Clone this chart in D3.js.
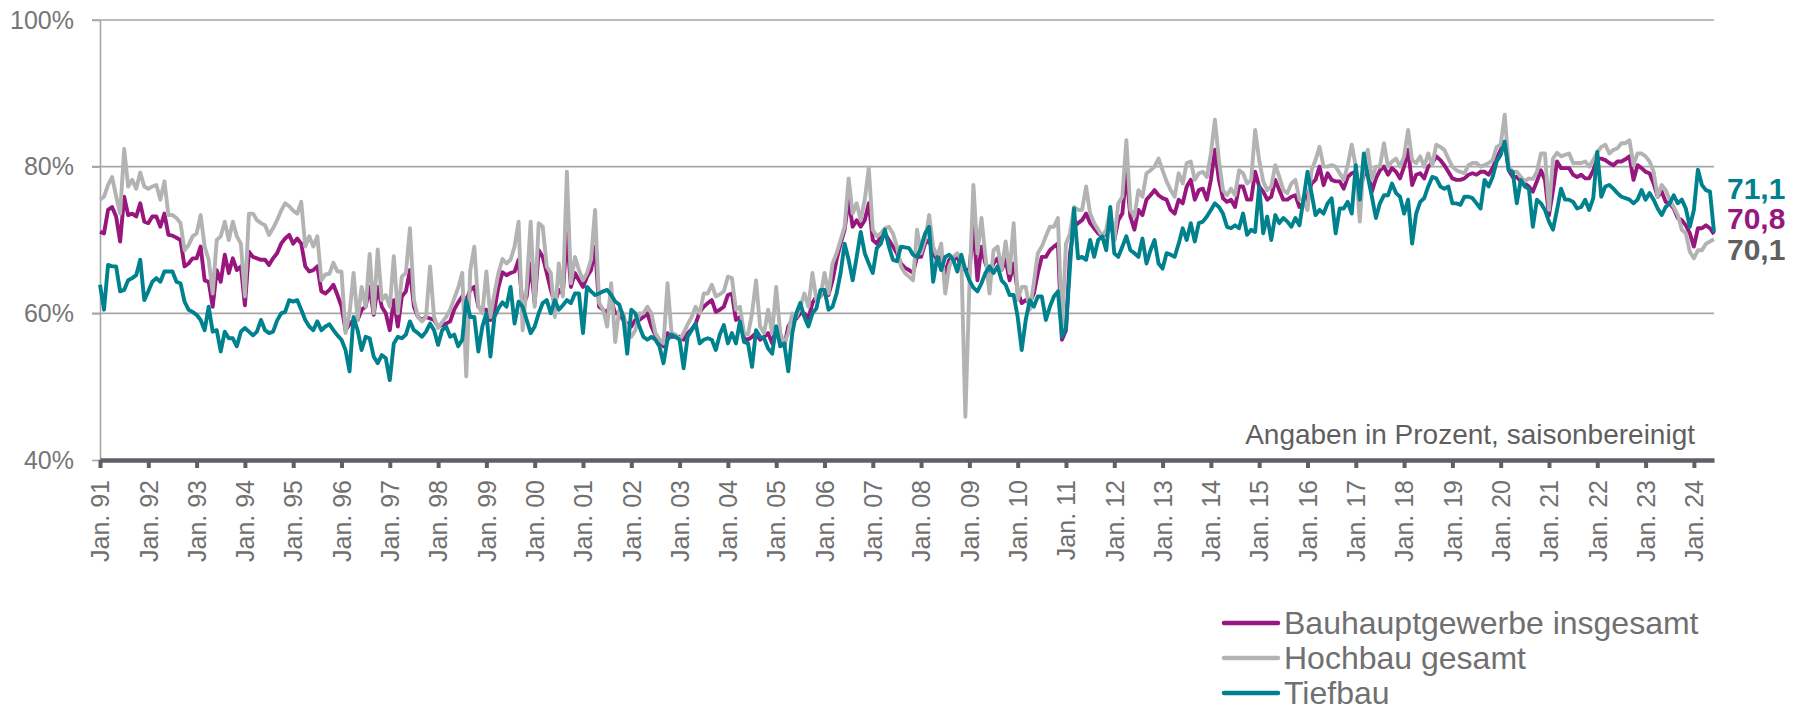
<!DOCTYPE html>
<html>
<head>
<meta charset="utf-8">
<script src="https://cdn.jsdelivr.net/npm/d3@7"></script>
<style>
    body { margin: 0; background: #fff; }
    svg { display: block; font-family: Arial, "Liberation Sans", sans-serif; }
</style>
</head>
<body>
<svg id="chart" width="1802" height="710"></svg>
<script>
// monthly values, Jan. 1991 - Jun. 2024 (one row per year)
var bauhaupt = [
    71.1, 70.9, 74.1, 74.5, 73.2, 69.8, 75.9, 73.4, 73.6, 73.2, 75.0, 72.5,
    72.3, 73.2, 73.2, 71.8, 73.6, 70.7, 70.6, 70.3, 70.0, 66.4, 66.8, 67.5,
    67.5, 69.1, 64.5, 64.3, 60.9, 65.9, 64.3, 68.0, 65.5, 67.5, 65.9, 66.4,
    61.1, 68.4, 67.7, 67.5, 67.3, 67.3, 66.6, 67.5, 68.2, 69.5, 70.2, 70.7,
    69.5, 70.2, 69.5, 66.4, 65.7, 65.9, 66.4, 63.0, 62.7, 63.2, 63.9, 62.5,
    60.9, 57.7, 58.5, 59.1, 59.1, 60.5, 60.9, 63.6, 59.8, 63.6, 60.9, 60.0,
    57.7, 61.8, 58.2, 62.3, 63.0, 65.9, 60.9, 59.5, 59.1, 59.5, 59.3, 59.1,
    58.2, 58.4, 58.6, 58.9, 60.5, 61.5, 62.3, 61.8, 63.2, 63.6, 60.9, 60.5,
    60.5, 59.1, 60.5, 63.6, 65.6, 65.2, 65.5, 65.7, 67.3, 60.9, 62.3, 66.8,
    61.4, 68.6, 67.7, 65.5, 63.2, 61.4, 63.2, 62.7, 70.9, 63.6, 65.5, 64.5,
    63.6, 65.0, 65.9, 69.1, 60.9, 60.5, 60.0, 61.8, 60.0, 60.0, 59.1, 58.6,
    58.2, 59.1, 59.1, 59.5, 60.0, 58.2, 57.0, 56.4, 55.5, 57.3, 56.8, 56.8,
    56.8, 56.4, 57.3, 57.8, 58.6, 60.2, 60.9, 61.4, 61.8, 60.2, 60.5, 60.9,
    62.5, 62.7, 59.1, 59.5, 56.6, 56.4, 56.8, 57.3, 56.4, 56.8, 57.3, 55.9,
    58.2, 56.4, 55.5, 58.2, 59.1, 59.3, 60.0, 60.0, 59.3, 61.4, 62.3, 62.3,
    63.2, 62.5, 64.5, 67.3, 69.5, 71.4, 75.5, 71.8, 72.7, 71.8, 72.7, 75.0,
    70.0, 69.5, 70.5, 70.9, 70.0, 69.1, 68.2, 66.8, 66.2, 65.9, 65.5, 67.7,
    67.7, 69.5, 70.0, 68.2, 67.3, 67.7, 65.5, 67.3, 67.3, 67.7, 66.4, 65.9,
    65.9, 71.8, 64.5, 69.1, 66.8, 65.5, 66.8, 67.5, 65.9, 67.3, 64.5, 66.8,
    63.0, 61.4, 61.8, 61.4, 62.7, 65.5, 67.7, 67.7, 68.6, 69.1, 69.5, 56.4,
    57.7, 68.2, 71.8, 72.3, 72.7, 73.6, 72.3, 71.6, 70.9, 70.5, 70.9, 72.7,
    70.0, 72.7, 73.6, 79.1, 73.2, 71.4, 74.1, 73.4, 75.5, 76.1, 76.8, 76.1,
    75.7, 75.5, 74.1, 73.6, 75.5, 75.0, 77.3, 78.2, 75.5, 76.8, 77.0, 75.5,
    78.2, 82.3, 78.2, 75.7, 75.2, 75.5, 74.5, 77.3, 77.3, 75.5, 75.5, 79.3,
    77.3, 76.6, 75.5, 75.9, 78.2, 76.8, 75.5, 75.5, 75.9, 76.1, 74.5, 75.0,
    75.9, 77.7, 78.2, 80.0, 77.5, 79.1, 78.2, 78.0, 78.0, 77.0, 78.6, 79.1,
    79.3, 76.8, 78.9, 79.3, 76.6, 78.4, 79.5, 80.0, 78.9, 79.8, 79.3, 78.4,
    80.0, 82.3, 77.5, 78.9, 79.1, 78.4, 80.0, 80.5, 81.4, 80.9, 80.2, 79.3,
    78.4, 78.2, 78.2, 78.4, 78.9, 79.1, 78.9, 79.3, 79.3, 78.9, 79.8, 81.1,
    82.3, 83.4, 79.5, 78.6, 78.6, 78.0, 77.7, 77.3, 76.6, 78.0, 79.5, 78.2,
    73.4, 76.8, 80.7, 79.8, 79.8, 79.8, 78.9, 78.6, 78.9, 78.4, 78.4, 79.5,
    81.1, 81.1, 80.9, 80.5, 80.2, 80.7, 80.7, 81.0, 81.4, 78.2, 80.2, 79.8,
    79.3, 79.1, 77.7, 75.9, 76.6, 75.2, 75.0, 74.3, 73.0, 72.7, 72.0, 70.9,
    69.1, 71.6, 71.6, 72.0, 71.6, 70.8
]

var hochbau = [
    75.5, 75.9, 77.5, 78.6, 76.0, 73.6, 82.4, 77.3, 78.2, 77.0, 79.2, 77.3,
    77.0, 77.3, 77.5, 75.5, 78.0, 73.4, 73.4, 73.0, 72.3, 68.6, 69.3, 70.5,
    70.9, 73.4, 69.1, 67.3, 62.7, 70.0, 70.5, 72.5, 70.0, 72.5, 70.5, 69.5,
    62.3, 73.6, 73.6, 72.7, 72.3, 72.0, 70.7, 71.6, 72.7, 74.0, 75.0, 74.6,
    74.0, 73.6, 75.2, 69.1, 70.5, 69.1, 70.5, 64.5, 65.3, 65.4, 66.9, 65.7,
    65.7, 57.3, 60.0, 65.5, 59.1, 63.6, 60.9, 68.1, 60.0, 68.7, 61.8, 62.5,
    60.9, 67.8, 60.0, 65.0, 65.5, 71.6, 61.8, 59.5, 58.9, 59.5, 66.4, 59.5,
    58.0, 58.8, 59.5, 60.5, 62.0, 63.5, 65.5, 51.4, 65.9, 69.1, 61.0, 60.0,
    65.7, 59.5, 62.7, 65.5, 67.4, 66.8, 67.3, 69.1, 72.5, 57.7, 63.6, 72.5,
    60.9, 72.3, 71.8, 66.4, 65.5, 59.5, 66.8, 62.3, 79.3, 64.1, 67.7, 65.9,
    64.5, 65.5, 67.3, 74.1, 61.4, 60.5, 58.2, 64.1, 56.1, 60.5, 60.0, 57.7,
    56.8, 57.7, 60.0, 60.0, 60.9, 60.0, 57.3, 56.4, 55.9, 64.1, 57.3, 57.1,
    56.4, 57.3, 58.5, 59.5, 60.9, 60.0, 62.7, 62.7, 63.9, 62.3, 62.6, 63.0,
    65.0, 64.8, 60.5, 60.9, 57.3, 57.1, 60.0, 64.5, 58.2, 57.3, 60.5, 57.3,
    63.6, 57.3, 55.9, 57.3, 60.0, 59.5, 60.9, 62.7, 60.9, 65.5, 61.8, 62.3,
    65.5, 62.7, 66.8, 68.2, 70.0, 71.8, 78.4, 73.6, 75.0, 72.7, 75.5, 79.8,
    71.4, 70.5, 70.9, 71.6, 71.8, 70.9, 69.1, 66.4, 65.5, 65.0, 64.5, 71.4,
    68.2, 70.0, 73.4, 69.1, 67.7, 69.5, 62.7, 66.4, 67.7, 68.2, 67.3, 45.9,
    63.6, 77.5, 68.2, 73.0, 67.7, 62.7, 68.6, 69.1, 65.9, 69.8, 65.5, 72.3,
    61.8, 63.6, 63.6, 60.5, 64.1, 68.2, 69.1, 70.5, 71.8, 71.8, 73.0, 58.0,
    69.5, 70.9, 74.5, 74.1, 74.1, 77.3, 73.6, 72.3, 71.4, 70.5, 71.4, 74.1,
    70.0, 75.0, 75.9, 83.6, 74.1, 73.2, 76.8, 75.9, 79.1, 79.5, 80.0, 81.1,
    79.5, 78.0, 76.8, 75.9, 79.1, 77.7, 80.5, 80.7, 78.2, 79.1, 79.3, 78.6,
    81.8, 86.4, 80.9, 76.8, 76.1, 77.0, 76.1, 79.5, 79.1, 77.7, 78.2, 85.0,
    80.9, 78.0, 76.8, 77.3, 80.2, 78.6, 76.8, 76.4, 77.7, 78.2, 75.5, 75.5,
    74.1, 79.5, 80.9, 82.7, 80.0, 80.0, 80.2, 80.0, 79.1, 78.2, 80.2, 83.0,
    80.0, 72.5, 80.9, 82.3, 78.2, 80.0, 80.0, 83.2, 80.0, 80.7, 81.1, 80.0,
    81.4, 85.0, 80.9, 80.5, 81.4, 80.0, 81.8, 80.2, 83.0, 82.7, 82.3, 81.1,
    80.0, 79.5, 79.3, 79.1, 80.2, 80.5, 80.5, 80.0, 80.2, 80.5, 80.9, 82.7,
    83.0, 87.1, 80.0, 79.3, 79.3, 78.6, 78.0, 78.4, 78.3, 79.3, 81.8, 81.8,
    74.1, 81.1, 81.9, 81.4, 81.6, 81.8, 80.5, 80.5, 80.5, 80.7, 80.0, 80.9,
    82.0, 82.7, 83.0, 81.8, 82.3, 82.5, 83.2, 83.2, 83.6, 80.2, 81.8, 81.8,
    81.4, 80.7, 79.3, 75.9, 77.5, 76.8, 75.5, 74.5, 73.4, 71.4, 70.9, 68.4,
    67.5, 68.6, 68.6, 69.5, 69.8, 70.1
]

var tiefbau = [
    63.9, 60.5, 66.6, 66.4, 66.4, 63.0, 63.2, 64.5, 64.8, 65.2, 67.3, 61.8,
    63.0, 64.3, 64.8, 64.3, 65.7, 65.7, 65.7, 64.3, 64.1, 61.6, 60.5, 60.2,
    59.8, 59.1, 57.7, 60.9, 57.5, 57.7, 54.8, 57.5, 56.6, 56.6, 55.5, 57.5,
    58.0, 57.5, 57.0, 57.5, 59.1, 57.7, 57.3, 57.5, 59.0, 60.0, 60.2, 61.8,
    61.6, 61.8, 60.5, 59.1, 58.2, 57.7, 58.9, 57.7, 58.2, 58.5, 57.7, 57.0,
    56.4, 55.0, 52.1, 59.5, 57.7, 55.0, 56.8, 56.6, 54.1, 53.2, 54.3, 53.9,
    50.9, 55.9, 56.8, 56.6, 57.1, 58.9, 57.7, 57.3, 56.8, 57.5, 58.6, 57.7,
    55.7, 57.7, 58.2, 56.8, 57.1, 55.5, 56.4, 61.8, 59.5, 59.5, 54.8, 58.2,
    60.0, 54.1, 59.5, 60.7, 61.5, 60.9, 63.6, 58.6, 61.6, 60.9, 59.1, 57.3,
    58.2, 60.0, 61.4, 61.8, 60.0, 61.8, 60.5, 61.1, 61.8, 61.4, 62.7, 62.7,
    57.3, 63.6, 63.0, 62.5, 62.7, 63.0, 63.2, 62.5, 61.6, 61.2, 59.5, 54.5,
    60.5, 60.0, 58.2, 56.8, 56.4, 56.8, 56.4, 55.5, 53.2, 56.4, 57.1, 56.8,
    56.4, 52.5, 56.8, 57.7, 58.6, 55.9, 56.4, 56.6, 56.4, 55.0, 57.1, 58.4,
    55.9, 57.3, 55.9, 58.9, 56.1, 55.9, 52.7, 57.7, 56.8, 56.6, 55.2, 54.5,
    58.2, 55.5, 55.9, 52.1, 57.3, 60.0, 61.4, 59.5, 58.2, 60.0, 60.7, 63.2,
    63.2, 60.5, 60.9, 62.7, 65.5, 69.5, 67.3, 64.5, 67.7, 71.1, 68.2, 66.8,
    65.5, 68.9, 69.5, 71.4, 69.1, 67.3, 67.1, 69.1, 69.0, 68.9, 68.0, 67.7,
    69.0, 70.9, 71.8, 64.3, 67.7, 65.9, 67.7, 68.0, 67.3, 65.7, 68.0, 65.9,
    64.5, 63.5, 63.0, 64.1, 65.5, 66.4, 65.5, 66.4, 64.5, 63.9, 62.5, 62.5,
    59.5, 55.0, 59.1, 61.8, 60.9, 62.3, 62.3, 59.1, 60.9, 62.3, 63.0, 56.8,
    58.0, 66.4, 74.3, 67.5, 67.7, 67.3, 70.0, 67.7, 70.0, 70.5, 68.6, 74.5,
    68.2, 67.7, 69.1, 70.5, 68.6, 68.2, 67.7, 70.2, 66.8, 68.6, 70.0, 66.8,
    66.1, 68.2, 68.0, 67.7, 69.5, 71.6, 70.0, 72.3, 69.8, 72.3, 72.5, 73.2,
    74.1, 75.0, 74.5, 73.6, 71.8, 71.6, 72.0, 71.6, 73.6, 70.7, 71.4, 71.1,
    77.3, 70.9, 73.2, 70.0, 73.4, 72.3, 73.0, 72.5, 71.8, 73.0, 72.0, 75.5,
    79.3, 76.4, 73.4, 74.1, 73.6, 75.0, 75.7, 70.9, 74.3, 74.3, 75.2, 73.6,
    80.2, 75.5, 81.8, 78.6, 75.9, 73.0, 75.0, 76.1, 76.1, 77.7, 76.4, 75.9,
    73.6, 75.5, 69.5, 73.6, 75.2, 75.7, 77.3, 78.6, 78.4, 77.3, 77.0, 77.3,
    75.0, 75.0, 74.8, 75.9, 75.9, 75.7, 75.0, 74.3, 78.2, 77.3, 78.6, 80.7,
    81.6, 83.4, 79.5, 79.3, 75.0, 78.2, 77.3, 77.0, 71.8, 75.5, 75.0, 74.1,
    72.5, 71.4, 74.1, 77.0, 75.5, 75.5, 75.2, 74.3, 74.5, 75.5, 74.1, 75.7,
    82.0, 75.9, 77.3, 77.5, 77.0, 76.4, 75.9, 75.7, 75.5, 75.0, 75.5, 76.8,
    75.5, 76.4, 75.5, 74.3, 73.4, 74.5, 75.0, 76.1, 75.0, 75.5, 74.3, 71.8,
    74.1, 79.6, 77.5, 76.8, 76.6, 71.1
]

var tickLabels = ['Jan. 91', 'Jan. 92', 'Jan. 93', 'Jan. 94', 'Jan. 95', 'Jan. 96', 'Jan. 97',
    'Jan. 98', 'Jan. 99', 'Jan. 00', 'Jan. 01', 'Jan. 02', 'Jan. 03', 'Jan. 04', 'Jan. 05',
    'Jan. 06', 'Jan. 07', 'Jan. 08', 'Jan. 09', 'Jan. 10', 'Jan. 11', 'Jan. 12', 'Jan. 13',
    'Jan. 14', 'Jan. 15', 'Jan. 16', 'Jan. 17', 'Jan. 18', 'Jan. 19', 'Jan. 20', 'Jan. 21',
    'Jan. 22', 'Jan. 23', 'Jan. 24']
var yTicks = [40, 60, 80, 100]

var seriesNames = ['Bauhauptgewerbe insgesamt', 'Hochbau gesamt', 'Tiefbau']
var seriesColors = ['#98177e', '#b3b3b3', '#00818e']
var lastValues = ['70,8', '70,1', '71,1']

var svg = d3.select('#chart')
var textGrey = '#707070'

var xs = d3.scaleLinear().domain([0, bauhaupt.length - 1]).range([100, 1714])
var ys = d3.scaleLinear().domain([40, 100]).range([460, 20])

// gridlines (also the little ticks left of the y axis)
svg.append('g').selectAll('line')
    .data(yTicks.slice(1))
    .enter().append('line')
    .attr('x1', 92).attr('x2', xs.range()[1])
    .attr('y1', d => ys(d)).attr('y2', d => ys(d))
    .style('stroke', '#a6a6a6').style('stroke-width', 1.6)

var yAxis = svg.append('g')
    .attr('transform', 'translate(100,0)')
    .call(d3.axisLeft(ys).tickValues(yTicks).tickFormat(d => d + '%').tickSize(8).tickSizeOuter(0).tickPadding(18))
yAxis.select('.domain').style('stroke', '#a6a6a6').style('stroke-width', 1.6)
yAxis.selectAll('.tick line').style('stroke', '#a6a6a6').style('stroke-width', 1.6)
yAxis.selectAll('text').style('font-size', '25px').style('fill', '#767676')
    .style('font-family', 'Arial, "Liberation Sans", sans-serif')

// series lines, drawn in the same order as the legend
var series = [bauhaupt, hochbau, tiefbau]
var line = d3.line().x((d, i) => xs(i)).y(d => ys(d))

svg.append('g').selectAll('path')
    .data(series)
    .enter().append('path')
    .attr('d', d => line(d))
    .style('fill', 'none')
    .style('stroke', (d, i) => seriesColors[i])
    .style('stroke-width', 3.9)
    .style('stroke-linejoin', 'round')

// x axis: dark thick line with a tick every January
var xAxis = svg.append('g')
    .attr('transform', 'translate(0,' + ys(40) + ')')
    .call(d3.axisBottom(xs).tickValues(d3.range(0, bauhaupt.length, 12))
        .tickFormat((d, i) => tickLabels[i]).tickSize(8).tickSizeOuter(0))
xAxis.select('.domain').style('stroke', '#5f5f66').style('stroke-width', 4.5)
xAxis.selectAll('.tick line').style('stroke', '#5f5f66').style('stroke-width', 4)
xAxis.selectAll('text')
    .attr('transform', 'translate(0,20) rotate(-90)')
    .attr('x', 0).attr('y', 0).attr('dy', '0.35em')
    .style('text-anchor', 'end')
    .style('font-size', '25px').style('fill', textGrey)
    .style('font-family', 'Arial, "Liberation Sans", sans-serif')

svg.append('text')
    .attr('x', 1695).attr('y', 444)
    .style('text-anchor', 'end')
    .style('font-size', '28px').style('fill', '#5f5f5f')
    .text('Angaben in Prozent, saisonbereinigt')

// latest values at the right end
var endY = [229, 260, 199]
var endColors = ['#98177e', '#5f5f5f', '#00818e']
svg.append('g').selectAll('text')
    .data(lastValues)
    .enter().append('text')
    .attr('x', 1727).attr('y', (d, i) => endY[i])
    .style('font-size', '30px').style('font-weight', 'bold')
    .style('fill', (d, i) => endColors[i])
    .text(d => d)

// legend
var legend = svg.append('g').attr('transform', 'translate(1224,623)')
var rows = legend.selectAll('g')
    .data(seriesNames)
    .enter().append('g')
    .attr('transform', (d, i) => 'translate(0,' + (i * 35) + ')')
rows.append('line')
    .attr('x1', 0).attr('x2', 54)
    .style('stroke', (d, i) => seriesColors[i])
    .style('stroke-width', 4.5).style('stroke-linecap', 'round')
rows.append('text')
    .attr('x', 60).attr('dy', '0.35em')
    .style('font-size', '32px').style('fill', textGrey)
    .text(d => d)
</script>
</body>
</html>
